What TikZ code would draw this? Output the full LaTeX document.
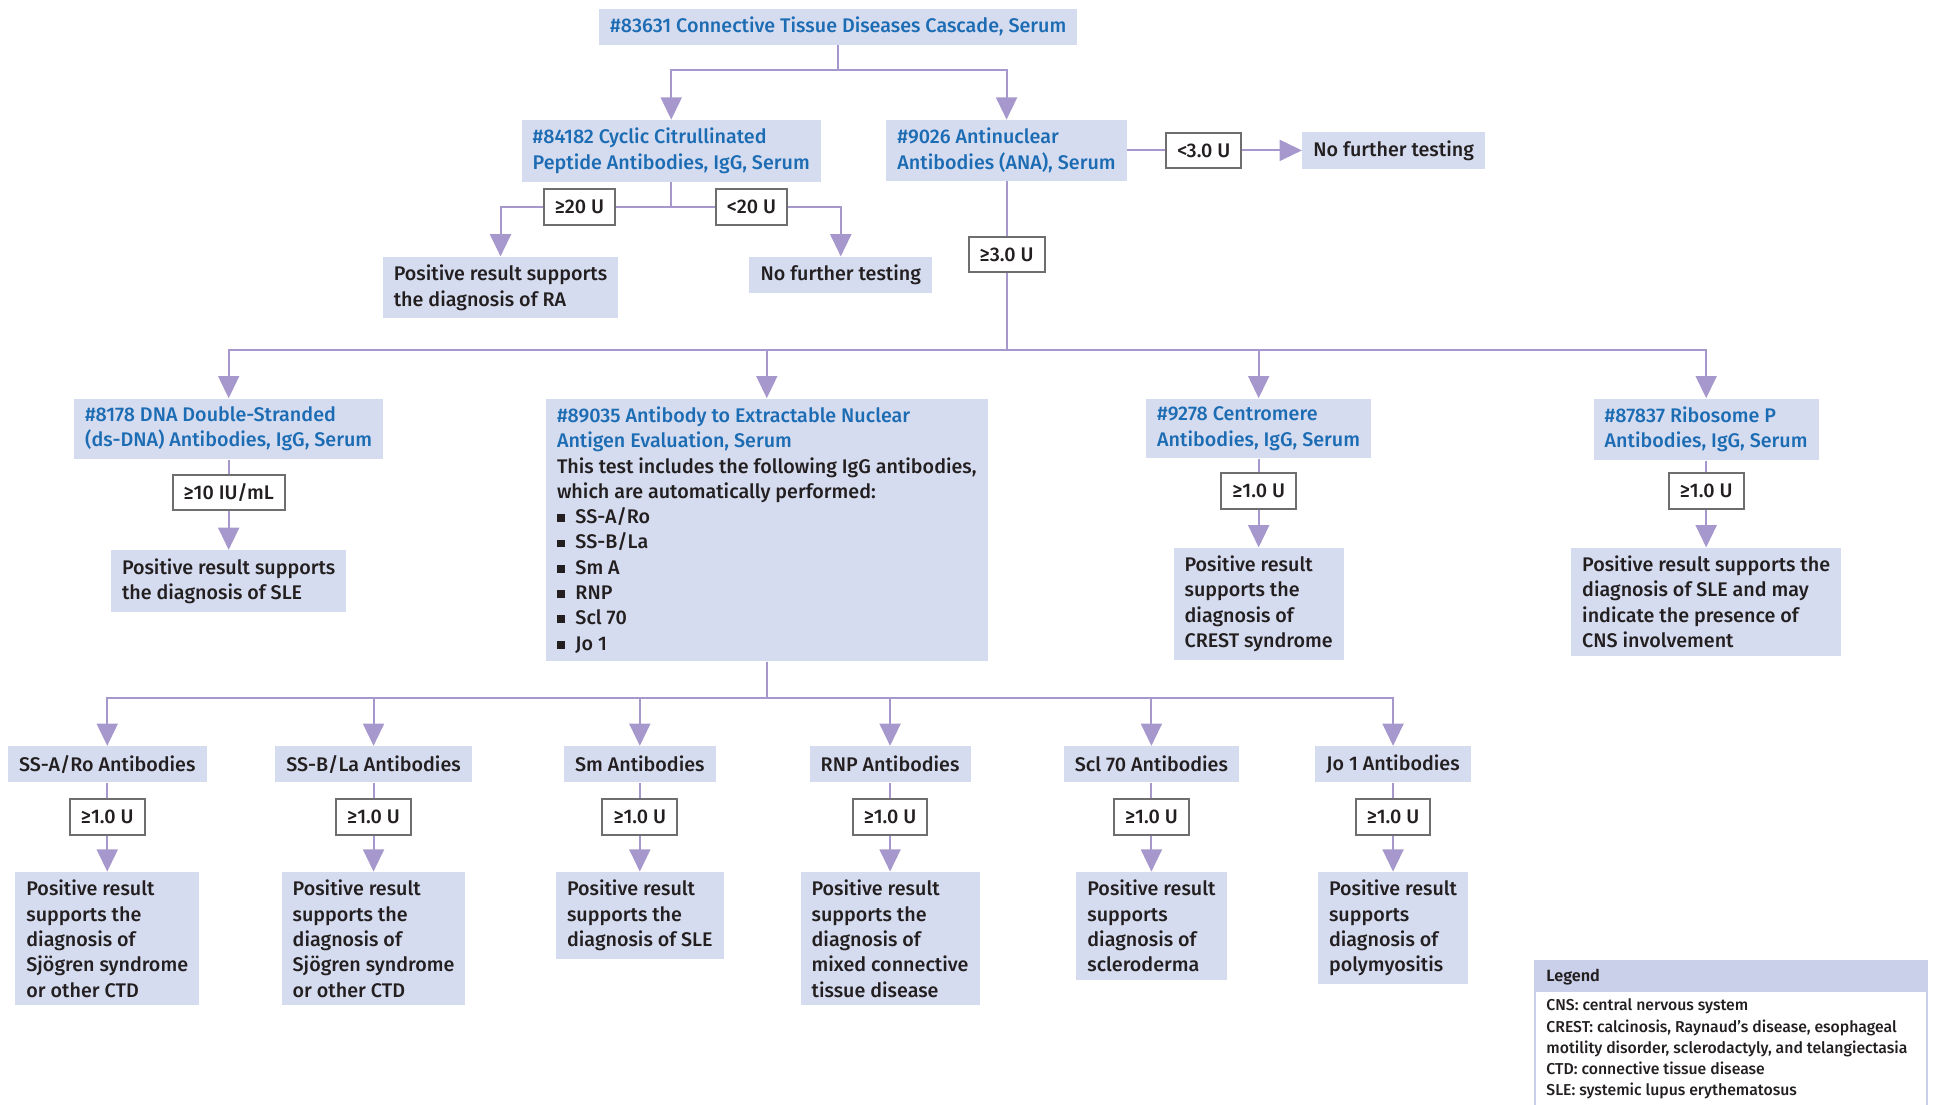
\documentclass[tikz,border=0pt]{standalone}
\usepackage{fontspec}
\setmainfont{Fira Sans}[UprightFont={* Medium},BoldFont={* SemiBold}]
\usetikzlibrary{arrows.meta,backgrounds}
\definecolor{boxfill}{RGB}{214,220,239}
\definecolor{headfill}{RGB}{202,208,234}
\definecolor{linkcol}{RGB}{166,152,204}
\definecolor{testblue}{RGB}{28,108,180}
\definecolor{ink}{RGB}{35,31,32}
\definecolor{cutgray}{RGB}{110,110,112}
\tikzset{
  box/.style={fill=boxfill, text=ink, inner xsep=4.5pt, inner ysep=3.3pt, align=left,
    font=\fontsize{8}{10.25}\selectfont, anchor=north},
  test/.style={box, text=testblue},
  single/.style={minimum height=14.5pt},
  cutoff/.style={draw=cutgray, line width=0.8pt, fill=white, text=ink, inner xsep=4.5pt,
    minimum height=14.5pt, font=\fontsize{8}{10.25}\selectfont},
  link/.style={draw=linkcol, line width=0.8pt},
  arr/.style={link, -{Triangle[width=8.5pt,length=9pt]}}
}
\newcommand{\enabullet}{\makebox[7.5pt][l]{\rule[0.6pt]{3.2pt}{3.2pt}}}

\begin{document}
\begin{tikzpicture}[x=0.5pt,y=-0.5pt]
\useasboundingbox (0,0) rectangle (1568,896);

\node[test, single, minimum height=13.5pt] (cascade) at (680,7) {\#83631 Connective Tissue Diseases Cascade, Serum};
\coordinate (bartop) at (680,57);

\node[test] (ccp) at (544.5,97) {\#84182 Cyclic Citrullinated\\Peptide Antibodies, IgG, Serum};
\node[test] (ana) at (816.5,97) {\#9026 Antinuclear\\Antibodies (ANA), Serum};

\node[cutoff] (ananeg) at (976.5,122) {<3.0 U};
\node[box, single, anchor=center] (anastop) at (1130.5,122) {No further testing};

\coordinate (barccp) at (544.5,168);
\node[cutoff] (ccppos) at (470,168) {≥20 U};
\node[cutoff] (ccpneg) at (609.5,168) {<20 U};
\node[box] (ra) at (406,208) {Positive result supports\\the diagnosis of RA};
\node[box, single] (ccpstop) at (682,208) {No further testing};

\node[cutoff] (anapos) at (816.5,206.5) {≥3.0 U};
\coordinate (barana) at (816.5,284);

\node[test] (dsdna) at (185.5,323) {\#8178 DNA Double-Stranded\\(ds-DNA) Antibodies, IgG, Serum};
\node[cutoff] (dsdnacut) at (185.5,399.5) {≥10 IU/mL};
\node[box] (dsdnares) at (185.5,446) {Positive result supports\\the diagnosis of SLE};

\node[box] (ena) at (622,323) {\textcolor{testblue}{\#89035 Antibody to Extractable Nuclear}\\
  \textcolor{testblue}{Antigen Evaluation, Serum}\\
  This test includes the following IgG antibodies,\\
  which are automatically performed:\\
  \enabullet SS-A/Ro\\
  \enabullet SS-B/La\\
  \enabullet Sm A\\
  \enabullet RNP\\
  \enabullet Scl 70\\
  \enabullet Jo 1};
\coordinate (barena) at (622,566);

\node[test] (centro) at (1021,323) {\#9278 Centromere\\Antibodies, IgG, Serum};
\node[cutoff] (centrocut) at (1021,398) {≥1.0 U};
\node[box] (centrores) at (1021,444) {Positive result\\supports the\\diagnosis of\\CREST syndrome};

\node[test] (ribo) at (1384,323) {\#87837 Ribosome P\\Antibodies, IgG, Serum};
\node[cutoff] (ribocut) at (1384,398) {≥1.0 U};
\node[box] (riborres) at (1384,444) {Positive result supports the\\diagnosis of SLE and may\\indicate the presence of\\CNS involvement};

\node[box, single] (ssa) at (87,605) {SS-A/Ro Antibodies};
\node[box, single] (ssb) at (303,605) {SS-B/La Antibodies};
\node[box, single] (sm) at (519,605) {Sm Antibodies};
\node[box, single] (rnp) at (722,605) {RNP Antibodies};
\node[box, single] (scl) at (934,605) {Scl 70 Antibodies};
\node[box, single] (jo) at (1130,605) {Jo 1 Antibodies};

\foreach \ab/\xx in {ssa/87,ssb/303,sm/519,rnp/722,scl/934,jo/1130}
  \node[cutoff] (\ab cut) at (\xx,662.5) {≥1.0 U};

\node[box] (ssares) at (87,707) {Positive result\\supports the\\diagnosis of\\Sjögren syndrome\\or other CTD};
\node[box] (ssbres) at (303,707) {Positive result\\supports the\\diagnosis of\\Sjögren syndrome\\or other CTD};
\node[box] (smres) at (519,707) {Positive result\\supports the\\diagnosis of SLE};
\node[box] (rnpres) at (722,707) {Positive result\\supports the\\diagnosis of\\mixed connective\\tissue disease};
\node[box] (sclres) at (934,707) {Positive result\\supports\\diagnosis of\\scleroderma};
\node[box] (jores) at (1130,707) {Positive result\\supports\\diagnosis of\\polymyositis};

% legend
\fill[headfill] (1245,780) rectangle (1563,805);
\draw[headfill, line width=1pt] (1245,780) rectangle (1563,920);
\node[anchor=west, text=ink, font=\fontsize{6.6}{8}\selectfont\bfseries, inner sep=0pt] (legendhead) at (1254,793) {Legend};
\node[anchor=north west, text=ink, align=left, inner sep=0pt, font=\fontsize{6.4}{8.62}\selectfont] (legendbody) at (1254,810) {CNS: central nervous system\\CREST: calcinosis, Raynaud’s disease, esophageal\\motility disorder, sclerodactyly, and telangiectasia\\CTD: connective tissue disease\\SLE: systemic lupus erythematosus};

\begin{scope}[on background layer]
\draw[arr] (cascade.south) -- (bartop) -| (ccp.north);
\draw[arr] (cascade.south) -- (bartop) -| (ana.north);
\draw[link] (ana.east |- ananeg.west) -- (ananeg.west);
\draw[arr] (ananeg.east) -- (anastop.west);
\draw[arr] (ccp.south) -- (barccp) -| (ra.north);
\draw[arr] (ccp.south) -- (barccp) -| (ccpstop.north);
\draw[link] (ana.south) -- (anapos.north);
\foreach \n in {dsdna,ena,centro,ribo}
  \draw[arr] (anapos.south) -- (barana) -| (\n.north);
\draw[link] (dsdna.south) -- (dsdnacut.north);
\draw[arr] (dsdnacut.south) -- (dsdnares.north);
\draw[link] (centro.south) -- (centrocut.north);
\draw[arr] (centrocut.south) -- (centrores.north);
\draw[link] (ribo.south) -- (ribocut.north);
\draw[arr] (ribocut.south) -- (riborres.north);
\foreach \ab in {ssa,ssb,sm,rnp,scl,jo}{
  \draw[arr] (ena.south) -- (barena) -| (\ab.north);
  \draw[link] (\ab.south) -- (\ab cut.north);
  \draw[arr] (\ab cut.south) -- (\ab res.north);
}
\end{scope}
\end{tikzpicture}
\end{document}
